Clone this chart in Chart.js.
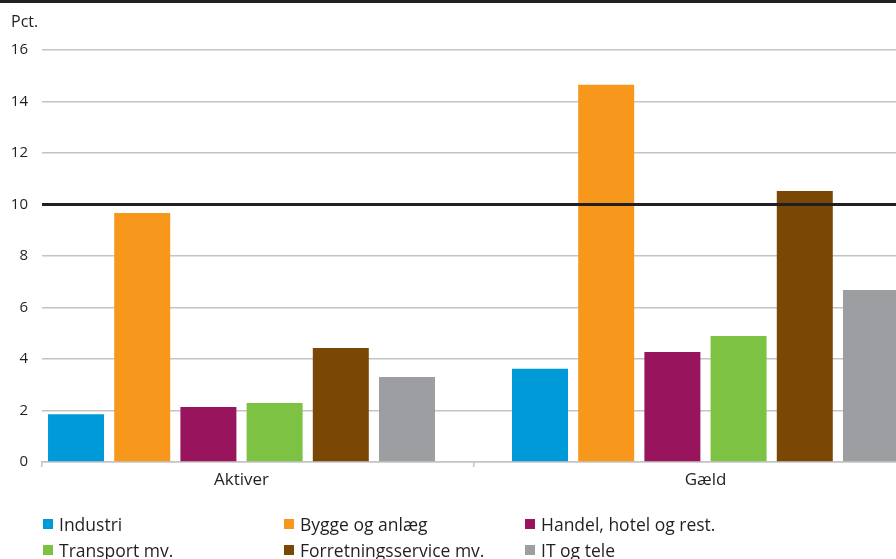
<!DOCTYPE html>
<html><head><meta charset="utf-8">
<script src="https://cdn.jsdelivr.net/npm/chart.js@4"></script>
<style>
html,body{margin:0;padding:0;background:#fff;overflow:hidden;}
#wrap{position:relative;width:896px;height:559px;}
#rule{position:absolute;left:0;top:0;width:896px;height:3px;background:#231f20;z-index:2;}
canvas{position:absolute;left:0;top:0;}
.leg{position:absolute;font-family:"Open Sans",sans-serif;font-size:17.5px;color:#231f20;white-space:nowrap;line-height:20px;height:20px;}
.leg i{position:absolute;left:0;top:5px;width:10px;height:10px;}
.leg span{position:absolute;left:16px;top:0;}
</style></head>
<body>
<div id="wrap"><div id="rule"></div><canvas id="c" width="896" height="559"></canvas><div id="legend"></div></div>
<script>
const categories = ['Aktiver', 'Gæld'];
const seriesNames = ['Industri', 'Bygge og anlæg', 'Handel, hotel og rest.', 'Transport mv.', 'Forretningsservice mv.', 'IT og tele'];
const industri = [1.85, 3.62];
const byggeOgAnlaeg = [9.67, 14.65];
const handelHotelRest = [2.14, 4.27];
const transport = [2.29, 4.89];
const forretningsservice = [4.43, 10.52];
const itOgTele = [3.30, 6.68];
const seriesColors = ['#009ad8', '#f7981d', '#98155e', '#7dc243', '#7b4705', '#9d9ea1'];
const yTickValues = [0, 2, 4, 6, 8, 10, 12, 14, 16];
const referenceLevel = 10;
const yUnit = 'Pct.';

const seriesValues = [industri, byggeOgAnlaeg, handelHotelRest, transport, forretningsservice, itOgTele];
const xMin = -0.43, xMax = 1.4106;
const textColor = '#231f20';
const gridColor = '#c4c4c4';

const barSets = seriesNames.map((name, k) => ({
  type: 'bar',
  label: name,
  data: categories.map((c, i) => ({x: i, y: seriesValues[k][i]})),
  backgroundColor: seriesColors[k],
  borderWidth: 0,
  categoryPercentage: 0.856,
  barPercentage: 0.846,
  xAxisID: 'x',
  order: 1
}));
const refLine = {
  type: 'line',
  label: 'ref',
  data: [{x: xMin, y: referenceLevel}, {x: xMax, y: referenceLevel}],
  borderColor: textColor,
  borderWidth: 3,
  pointRadius: 0,
  fill: false,
  xAxisID: 'x',
  order: 0
};

const unitLabel = {
  id: 'unitLabel',
  afterDraw(chart) {
    const ctx = chart.ctx;
    ctx.save();
    ctx.font = '16px "Open Sans"';
    ctx.fillStyle = textColor;
    ctx.textBaseline = 'alphabetic';
    ctx.textAlign = 'left';
    ctx.fillText(yUnit, 11, chart.chartArea.top - 23);
    ctx.restore();
  }
};

new Chart(document.getElementById('c'), {
  data: {datasets: [...barSets, refLine]},
  options: {
    responsive: false,
    animation: false,
    events: [],
    layout: {padding: {top: 50, left: 0, right: 0, bottom: 68}},
    plugins: {legend: {display: false}, tooltip: {enabled: false}, title: {display: false}},
    scales: {
      x: {
        type: 'linear', position: 'bottom', min: xMin, max: xMax, weight: 1, offset: false,
        grid: {display: false, drawTicks: false},
        border: {display: false},
        ticks: {font: {family: 'Open Sans', size: 17}, color: textColor, padding: 3, autoSkip: false, maxRotation: 0,
          callback: (v) => categories[v] !== undefined ? categories[v] : ''},
        afterBuildTicks: s => { s.ticks = categories.map((c, i) => ({value: i})); },
        afterFit: s => { s.height = 24; }
      },
      xb: {
        type: 'linear', position: 'bottom', min: xMin, max: xMax, weight: 0, offset: false,
        ticks: {display: false},
        grid: {drawOnChartArea: false, drawTicks: true, tickLength: 5, color: gridColor, lineWidth: 1.5},
        border: {display: true, color: gridColor, width: 1.5},
        afterBuildTicks: s => { s.ticks = [{value: xMin}, {value: 0.5}]; },
        afterFit: s => { s.height = 5; }
      },
      y: {
        min: 0, max: 16,
        ticks: {padding: 14, font: {family: 'Open Sans', size: 15}, color: textColor},
        afterBuildTicks: s => { s.ticks = yTickValues.map(v => ({value: v})); },
        grid: {drawTicks: false,
          color: c => c.tick && c.tick.value === referenceLevel ? textColor : gridColor,
          lineWidth: c => c.tick && c.tick.value === referenceLevel ? 3 : 1.5},
        border: {display: false},
        afterFit: s => { s.width = 42; }
      }
    }
  },
  plugins: [unitLabel]
});

const legendCols = [43, 284, 525];
const legendRows = [514, 540];
const legendEl = document.getElementById('legend');
seriesNames.forEach((name, k) => {
  const d = document.createElement('div');
  d.className = 'leg';
  d.style.left = legendCols[k % 3] + 'px';
  d.style.top = legendRows[Math.floor(k / 3)] + 'px';
  const box = document.createElement('i');
  box.style.background = seriesColors[k];
  const t = document.createElement('span');
  t.textContent = name;
  d.appendChild(box); d.appendChild(t);
  legendEl.appendChild(d);
});
</script>
</body></html>
